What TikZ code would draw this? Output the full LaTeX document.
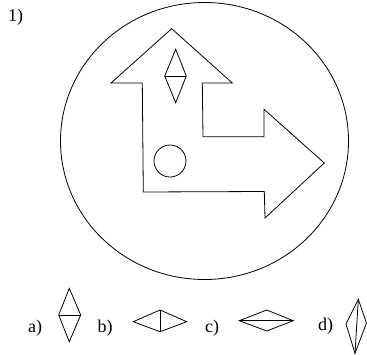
\documentclass[tikz,border=0pt]{standalone}
\usepackage{fontspec}
\setmainfont{Liberation Serif}
\begin{document}
\begin{tikzpicture}[x=1pt,y=-1pt,line width=0.8pt,line join=miter,
  lbl/.style={inner sep=0pt,font=\fontsize{18}{20}\selectfont}]
\useasboundingbox (0,0) rectangle (367,354);
\node[lbl] (n1) at (15.5,17.5) {1)};
\draw (204.5,141) ellipse [x radius=144, y radius=138.5];
% arrow polygon
\draw (171.7,28.7) -- (111,83) -- (142.3,83) -- (143.3,192) -- (264.3,191.5)
  -- (265,218) -- (324.3,163) -- (264,109.3) -- (264,136.7) -- (203,136.7)
  -- (202.3,83) -- (232.3,83) -- cycle;
% small diamond inside
\draw (175.7,49.3) -- (186.3,76) -- (175.7,102.7) -- (164.7,76) -- cycle;
\draw (164.7,76) -- (186.3,76);
\draw (170,161) circle [radius=16];
% options
\node[lbl] (la) at (35,328) {a)};
\draw (69.3,288.3) -- (80.7,315) -- (69.3,341.7) -- (58.7,315) -- cycle;
\draw (58.7,315) -- (80.7,315);
\node[lbl] (lb) at (105,328) {b)};
\draw (133.3,321.7) -- (160,310) -- (186.7,321.7) -- (160,331.7) -- cycle;
\draw (160,310) -- (160,331.7);
\node[lbl] (lc) at (212,328) {c)};
\draw (239.3,320.7) -- (266.7,310) -- (293.3,320.7) -- (266.7,331) -- cycle;
\draw (239.3,320.7) -- (293.3,320.7);
\node[lbl] (ld) at (325.5,326) {d)};
\draw (358.3,299.3) -- (366.5,323) -- (355,353.3) -- (346,324) -- cycle;
\draw (358.3,299.3) -- (355,353.3);
\end{tikzpicture}
\end{document}
